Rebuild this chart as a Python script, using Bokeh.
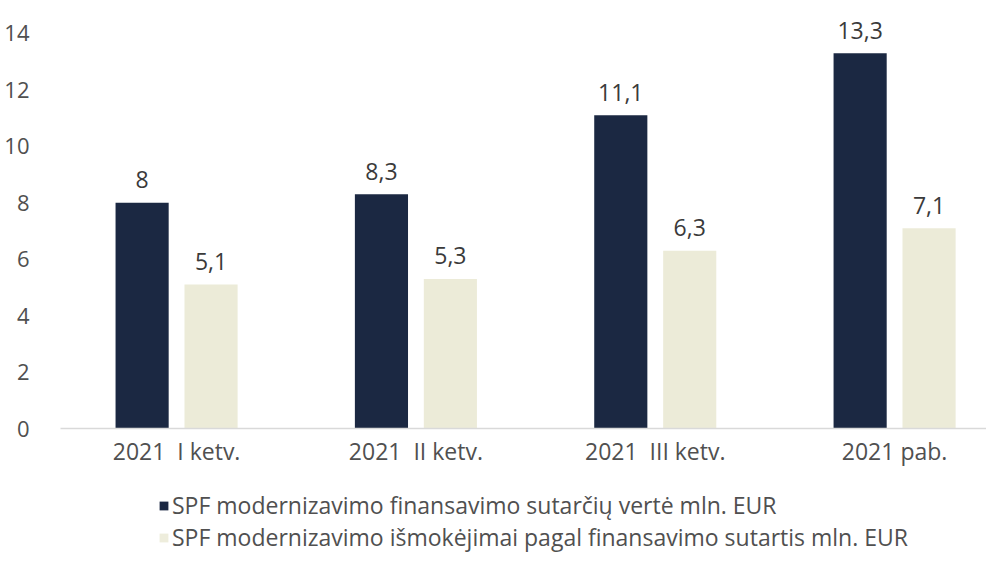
from bokeh.plotting import figure
from bokeh.layouts import column
from bokeh.models import ColumnDataSource, Range1d, FixedTicker, LabelSet, Legend, LegendItem
from bokeh.core.properties import value
from bokeh.embed import file_html
from bokeh.resources import INLINE

NB = "\u00a0"
categories = ["2021" + NB + " I ketv.", "2021" + NB + " II ketv.", "2021" + NB + " III ketv.", "2021 pab."]
contracts = [8.0, 8.3, 11.1, 13.3]
payments = [5.1, 5.3, 6.3, 7.1]
series_names = [
    "SPF modernizavimo finansavimo sutarčių vertė mln. EUR",
    "SPF modernizavimo išmokėjimai pagal finansavimo sutartis mln. EUR",
]
y_ticks = [0, 2, 4, 6, 8, 10, 12, 14]

DARK = "#1b2842"
LIGHT = "#ecebd8"
FONT = "Open Sans"

def fmt(v):
    return f"{v:g}".replace(".", ",")

idx = list(range(len(categories)))
off = 0.144
bw = 0.222

src1 = ColumnDataSource(dict(x=[i - off for i in idx], top=contracts, lab=[fmt(v) for v in contracts]))
src2 = ColumnDataSource(dict(x=[i + off for i in idx], top=payments, lab=[fmt(v) for v in payments]))

p = figure(width=986, height=475, output_backend="svg", toolbar_location=None,
           x_range=Range1d(-0.485, 3.384), y_range=Range1d(0, 14.99),
           min_border_left=60, min_border_right=0, min_border_top=5, min_border_bottom=47)
p.outline_line_color = None
p.grid.visible = False

r1 = p.vbar(x="x", top="top", width=bw, source=src1, fill_color=DARK, line_color=None)
r2 = p.vbar(x="x", top="top", width=bw, source=src2, fill_color=LIGHT, line_color=None)

for s in (src1, src2):
    p.add_layout(LabelSet(x="x", y="top", text="lab", source=s, y_offset=23,
                          text_align="center", text_baseline="middle",
                          text_font=value(FONT), text_font_size="23px", text_color="#3a3a3a"))

p.xaxis.ticker = FixedTicker(ticks=idx)
p.xaxis.major_label_overrides = {i: c for i, c in enumerate(categories)}
p.xaxis.major_tick_line_color = None
p.xaxis.minor_tick_line_color = None
p.xaxis.axis_line_color = "#d9d9d9"
p.xaxis.axis_line_width = 1.5
p.xaxis.major_label_standoff = 0
p.xaxis.major_label_text_font = FONT
p.xaxis.major_label_text_font_size = "23px"
p.xaxis.major_label_text_color = "#505050"

p.yaxis.ticker = FixedTicker(ticks=y_ticks)
p.yaxis.axis_line_color = None
p.yaxis.major_tick_line_color = None
p.yaxis.minor_tick_line_color = None
p.yaxis.major_label_standoff = 25
p.yaxis.major_label_text_font = FONT
p.yaxis.major_label_text_font_size = "22px"
p.yaxis.major_label_text_color = "#505050"

# legend strip (its frame is aligned with the chart frame, starting at x=60)
p2 = figure(width=986, height=78, output_backend="svg", toolbar_location=None,
            x_range=Range1d(0, 1), y_range=Range1d(0, 1),
            x_axis_type=None, y_axis_type=None,
            min_border_left=60, min_border_right=0, min_border_top=0, min_border_bottom=0)
p2.outline_line_color = None
p2.grid.visible = False
hidden = dict(x=[-10], top=[-10])
l1 = p2.vbar(x="x", top="top", width=0.1, source=ColumnDataSource(hidden), fill_color=DARK, line_color=None)
l2 = p2.vbar(x="x", top="top", width=0.1, source=ColumnDataSource(hidden), fill_color="#eeeddc", line_color=None)

legend = Legend(items=[LegendItem(label=series_names[0], renderers=[l1]),
                       LegendItem(label=series_names[1], renderers=[l2])],
                location=(98, 0), orientation="vertical",
                padding=0, margin=0, spacing=0, glyph_width=11, glyph_height=11,
                label_standoff=3, border_line_color=None, background_fill_alpha=0,
                label_text_line_height=1.0,
                label_text_font=FONT, label_text_font_size="23px", label_text_color="#505050")
p2.add_layout(legend, "center")

layout = column(p, p2, spacing=0)
open("out.html", "w").write(file_html(layout, INLINE))
